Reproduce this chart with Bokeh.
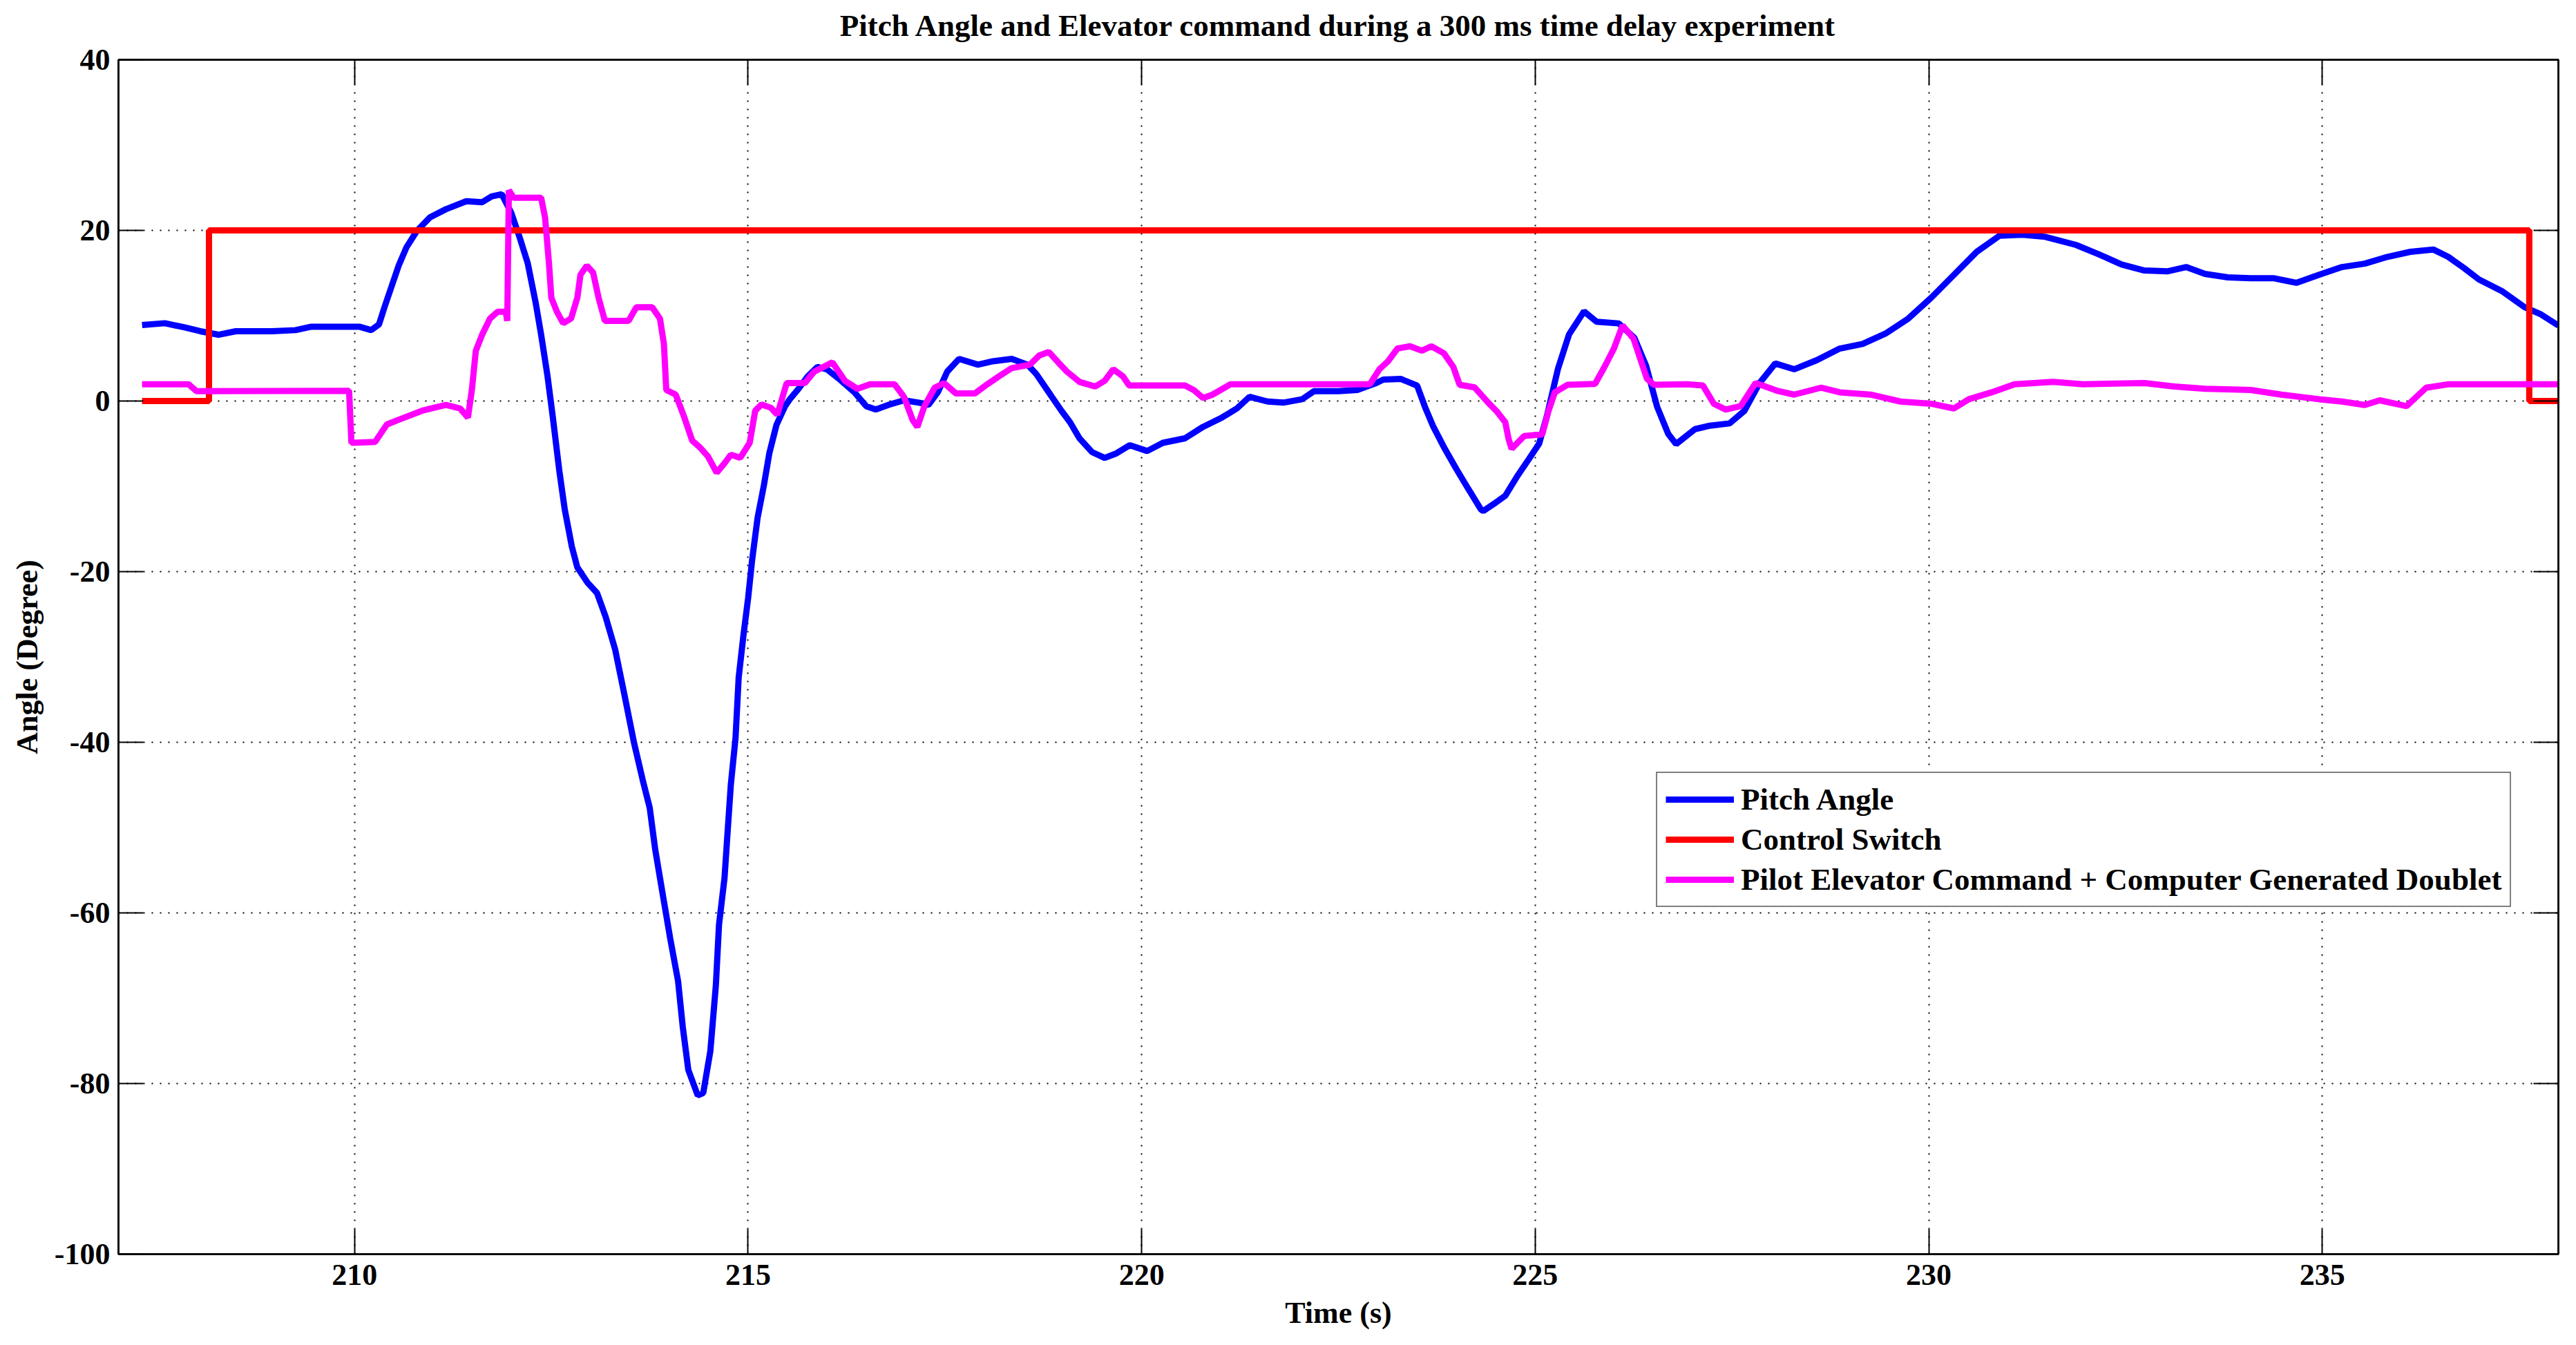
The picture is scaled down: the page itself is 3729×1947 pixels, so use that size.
from bokeh.plotting import figure
from bokeh.models import (LinearAxis, Range1d, FixedTicker, Legend, LegendItem,
                          CustomJSTickFormatter)
from bokeh.embed import file_html
from bokeh.resources import INLINE

# ---------------- data ----------------
x_ticks = [210, 215, 220, 225, 230, 235]
y_ticks = [-100, -80, -60, -40, -20, 0, 20, 40]

pitch_t = [207.30, 207.59, 207.84, 208.04, 208.27, 208.49, 208.95, 209.25, 209.45, 209.85,
           210.06, 210.21, 210.31, 210.38, 210.46, 210.56, 210.66, 210.79, 210.96, 211.16,
           211.42, 211.62, 211.74, 211.87, 211.99, 212.10, 212.20, 212.30, 212.37, 212.45,
           212.52, 212.60, 212.67, 212.76, 212.83, 212.96, 213.08, 213.19, 213.31, 213.43,
           213.55, 213.66, 213.75, 213.82, 213.92, 214.01, 214.11, 214.17, 214.24, 214.36,
           214.43, 214.52, 214.59, 214.63, 214.70, 214.74, 214.78, 214.84, 214.88, 214.94,
           215.00, 215.05, 215.12, 215.20, 215.27, 215.36, 215.47, 215.53, 215.64, 215.76,
           215.88, 216.00, 216.15, 216.35, 216.50, 216.62, 216.78, 216.98, 217.17, 217.29,
           217.41, 217.53, 217.68, 217.92, 218.11, 218.35, 218.55, 218.66, 218.82, 218.98,
           219.09, 219.21, 219.37, 219.53, 219.68, 219.85, 220.07, 220.27, 220.55, 220.78,
           221.02, 221.21, 221.37, 221.60, 221.80, 222.04, 222.19, 222.50, 222.74, 222.98,
           223.07, 223.29, 223.50, 223.60, 223.70, 223.84, 224.00, 224.15, 224.31, 224.34,
           224.50, 224.62, 224.78, 224.92, 225.05, 225.15, 225.29, 225.43, 225.62, 225.78,
           226.06, 226.26, 226.41, 226.55, 226.69, 226.79, 227.03, 227.22, 227.47, 227.66,
           227.85, 228.05, 228.29, 228.58, 228.87, 229.16, 229.45, 229.74, 230.03, 230.32,
           230.61, 230.90, 231.19, 231.48, 231.87, 232.16, 232.45, 232.74, 233.03, 233.27,
           233.51, 233.80, 234.09, 234.38, 234.67, 234.96, 235.25, 235.54, 235.83, 236.12,
           236.41, 236.60, 236.80, 236.99, 237.28, 237.57, 237.77, 238.00]
pitch_v = [8.9, 9.12, 8.63, 8.18, 7.77, 8.18, 8.18, 8.31, 8.71, 8.71,
           8.71, 8.31, 8.98, 11.0, 13.17, 15.87, 18.03, 19.92, 21.54, 22.48,
           23.42, 23.3, 23.97, 24.24, 22.07, 19.1, 16.14, 11.55, 7.77, 3.0,
           -2.0, -8.1, -12.7, -17.05, -19.5, -21.3, -22.5, -25.3, -29.1, -34.5,
           -40.05, -44.4, -47.7, -52.6, -58.1, -63.0, -68.0, -73.4, -78.4, -81.4,
           -81.1, -76.2, -68.5, -61.4, -55.9, -50.4, -45.0, -39.5, -32.4, -27.5,
           -23.1, -18.7, -13.7, -9.9, -6.1, -2.8, -0.6, 0.21, 1.43, 2.91,
           3.99, 3.72, 2.64, 1.02, -0.6, -1.0, -0.46, 0.08, -0.19, -0.46,
           1.02, 3.45, 4.94, 4.26, 4.66, 4.94, 4.26, 3.18, 1.02, -1.13,
           -2.49, -4.37, -5.99, -6.67, -6.13, -5.18, -5.86, -4.9, -4.37, -3.03,
           -1.94, -0.87, 0.49, -0.06, -0.19, 0.21, 1.16, 1.16, 1.3, 2.1,
           2.51, 2.6, 1.8, -0.7, -2.9, -5.4, -8.0, -10.3, -12.7, -12.9,
           -11.9, -11.1, -8.7, -6.8, -5.0, -1.7, 3.8, 7.8, 10.5, 9.3,
           9.1, 7.4, 4.1, -0.7, -3.84, -5.05, -3.3, -2.89, -2.62, -1.13,
           2.1, 4.4, 3.72, 4.8, 6.15, 6.69, 7.9, 9.66, 12.09, 14.79,
           17.49, 19.38, 19.5, 19.24, 18.3, 17.2, 16.0, 15.3, 15.2, 15.7,
           14.9, 14.5, 14.4, 14.4, 13.85, 14.79, 15.7, 16.1, 16.9, 17.49,
           17.76, 16.9, 15.6, 14.25, 12.9, 11.0, 10.2, 8.85]

switch_t = [207.30, 208.15, 208.15, 237.63, 237.63, 238.00]
switch_v = [0, 0, 20, 20, 0, 0]

elev_t = [207.30, 207.89, 207.99, 209.93, 209.96, 210.26, 210.41, 210.56, 210.86, 211.16,
          211.34, 211.44, 211.49, 211.54, 211.62, 211.72, 211.82, 211.92, 211.94, 211.96,
          212.02, 212.37, 212.42, 212.47, 212.50, 212.57, 212.65, 212.75, 212.83, 212.87,
          212.95, 213.03, 213.10, 213.18, 213.48, 213.58, 213.78, 213.88, 213.93, 213.96,
          214.08, 214.19, 214.29, 214.39, 214.49, 214.60, 214.70, 214.78, 214.90, 215.02,
          215.09, 215.17, 215.29, 215.37, 215.49, 215.72, 215.84, 216.07, 216.23, 216.39,
          216.55, 216.86, 216.98, 217.09, 217.15, 217.24, 217.37, 217.49, 217.64, 217.88,
          218.04, 218.19, 218.35, 218.58, 218.70, 218.82, 218.94, 219.05, 219.21, 219.41,
          219.53, 219.64, 219.76, 219.84, 220.55, 220.66, 220.78, 220.90, 221.13, 222.90,
          223.02, 223.13, 223.25, 223.41, 223.56, 223.68, 223.84, 223.96, 224.04, 224.23,
          224.39, 224.51, 224.62, 224.66, 224.70, 224.86, 225.09, 225.17, 225.25, 225.41,
          225.76, 225.88, 226.00, 226.11, 226.25, 226.42, 226.51, 226.93, 227.13, 227.27,
          227.42, 227.61, 227.80, 228.09, 228.29, 228.63, 228.87, 229.26, 229.64, 230.03,
          230.32, 230.51, 230.80, 231.09, 231.58, 231.96, 232.74, 233.12, 233.51, 234.09,
          234.48, 234.96, 235.25, 235.54, 235.73, 236.07, 236.32, 236.61, 238.00]
elev_v = [1.97, 1.97, 1.16, 1.2, -4.9, -4.8, -2.75, -2.2, -1.13, -0.46,
          -0.87, -1.94, 1.3, 5.88, 7.77, 9.66, 10.47, 10.47, 9.39, 24.7,
          23.83, 23.83, 21.5, 16.1, 12.1, 10.47, 9.12, 9.66, 12.1, 14.8,
          15.87, 15.06, 12.1, 9.39, 9.39, 11.0, 11.0, 9.66, 6.69, 1.3,
          0.75, -1.94, -4.65, -5.46, -6.5, -8.4, -7.3, -6.3, -6.65, -4.9,
          -1.13, -0.4, -0.8, -1.6, 2.1, 2.1, 3.45, 4.53, 2.37, 1.43,
          1.97, 1.97, 0.49, -2.22, -3.03, -0.6, 1.56, 2.1, 0.89, 0.89,
          1.97, 2.91, 3.86, 4.26, 5.34, 5.75, 4.53, 3.45, 2.24, 1.7,
          2.37, 3.72, 2.91, 1.83, 1.83, 1.3, 0.35, 0.75, 1.97, 1.97,
          3.72, 4.66, 6.15, 6.42, 5.9, 6.42, 5.6, 3.99, 1.9, 1.6,
          -0.06, -1.2, -2.49, -4.37, -5.6, -4.1, -3.9, -1.13, 1.02, 1.9,
          2.0, 3.99, 6.15, 8.85, 7.3, 2.6, 1.9, 1.97, 1.83, -0.32,
          -1.0, -0.6, 2.1, 1.16, 0.75, 1.56, 1.02, 0.75, -0.06, -0.32,
          -0.87, 0.21, 1.02, 1.97, 2.24, 1.97, 2.1, 1.7, 1.43, 1.3,
          0.75, 0.21, -0.06, -0.46, 0.08, -0.6, 1.56, 1.97, 1.97]

series_names = ["Pitch Angle", "Control Switch",
                "Pilot Elevator Command + Computer Generated Doublet"]
series_colors = ["#0000FF", "#FF0000", "#FF00FF"]
title_text = "Pitch Angle and Elevator command during a 300 ms time delay experiment"

FONT = "Liberation Serif"

p = figure(frame_width=3532, frame_height=1729,
           x_range=Range1d(207, 238), y_range=Range1d(-100, 40),
           output_backend="svg", toolbar_location=None,
           min_border_left=171, min_border_right=20,
           min_border_top=86, min_border_bottom=125,
           background_fill_color="white", border_fill_color="white")

p.outline_line_color = "black"
p.outline_line_width = 2.5
p.outline_line_alpha = 1

plain = CustomJSTickFormatter(code="return tick.toString()")
for ax, ticks in ((p.xaxis[0], x_ticks), (p.yaxis[0], y_ticks)):
    ax.ticker = FixedTicker(ticks=ticks)
    ax.formatter = plain
    ax.major_tick_in = 36
    ax.major_tick_out = 0
    ax.major_tick_line_width = 2
    ax.major_tick_line_color = "black"
    ax.minor_tick_line_color = None
    ax.axis_line_color = "black"
    ax.axis_line_width = 2.5
    ax.major_label_text_font = FONT
    ax.major_label_text_font_style = "bold"
    ax.major_label_text_font_size = "44px"
    ax.major_label_text_color = "black"
    ax.axis_label_text_font = FONT
    ax.axis_label_text_font_style = "bold"
    ax.axis_label_text_font_size = "44px"
    ax.axis_label_text_color = "black"

p.xaxis.axis_label = "Time (s)"
p.yaxis.axis_label = "Angle (Degree)"
p.xaxis.major_label_standoff = 15
p.xaxis.axis_label_standoff = 13
p.yaxis.major_label_standoff = 12
p.yaxis.axis_label_standoff = 12

# mirrored tick axes (MATLAB "box on"); the top one carries the chart title
blank = CustomJSTickFormatter(code="return ''")
top_ax = LinearAxis(ticker=FixedTicker(ticks=x_ticks), formatter=blank,
                    major_tick_in=36, major_tick_out=0, major_tick_line_width=2,
                    minor_tick_line_color=None, axis_line_width=2.5,
                    major_label_standoff=0, major_label_text_font_size="1px",
                    axis_label=title_text, axis_label_standoff=25,
                    axis_label_text_font=FONT, axis_label_text_font_style="bold",
                    axis_label_text_font_size="45px", axis_label_text_color="black")
p.add_layout(top_ax, "above")
right_ax = LinearAxis(ticker=FixedTicker(ticks=y_ticks), formatter=blank,
                      major_tick_in=36, major_tick_out=0, major_tick_line_width=2,
                      minor_tick_line_color=None, axis_line_width=2.5,
                      major_label_standoff=0, major_label_text_font_size="1px")
p.add_layout(right_ax, "right")

p.xgrid.ticker = FixedTicker(ticks=x_ticks)
p.ygrid.ticker = FixedTicker(ticks=y_ticks)
for g in (p.xgrid[0], p.ygrid[0]):
    g.grid_line_color = "black"
    g.grid_line_width = 2
    g.grid_line_dash = "2 10"
    g.grid_line_alpha = 1

r_pitch = p.line(pitch_t, pitch_v, line_color=series_colors[0], line_width=9)
r_switch = p.line(switch_t, switch_v, line_color=series_colors[1], line_width=9)
r_elev = p.line(elev_t, elev_v, line_color=series_colors[2], line_width=9)

legend = Legend(items=[LegendItem(label=series_names[0], renderers=[r_pitch]),
                       LegendItem(label=series_names[1], renderers=[r_switch]),
                       LegendItem(label=series_names[2], renderers=[r_elev])],
                location=(2226, 502),
                label_text_font=FONT, label_text_font_style="bold",
                label_text_font_size="45px", label_text_color="black",
                label_text_line_height=1.0,
                glyph_width=99, glyph_height=50, label_height=50,
                label_standoff=10, padding=12, spacing=6, margin=0,
                border_line_color="black", border_line_width=2,
                background_fill_color="white", background_fill_alpha=1)
p.add_layout(legend)

open("out.html", "w").write(file_html(p, INLINE))
